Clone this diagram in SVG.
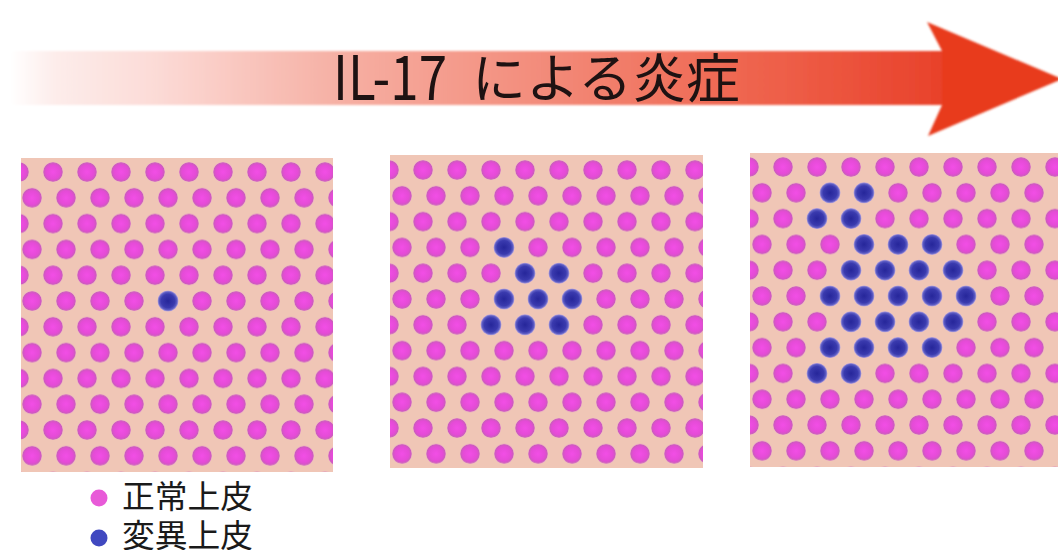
<svg xmlns="http://www.w3.org/2000/svg" xmlns:xlink="http://www.w3.org/1999/xlink" width="1058" height="550" viewBox="0 0 1058 550">
<style>
.bg{fill:#f0c6b6}
.title{font-family:"Noto Sans CJK JP","Noto Sans",sans-serif;fill:#1e1212}
.legend{font-family:"Noto Sans CJK JP","Noto Sans",sans-serif;font-size:32px;fill:#1a1a1a}
.pink{fill:url(#gPink)}
.blue{fill:url(#gBlue)}
</style>
<defs>
<linearGradient id="gShaft" gradientUnits="userSpaceOnUse" x1="10" y1="0" x2="945" y2="0">
<stop offset="0" stop-color="#ffffff"/>
<stop offset="0.05" stop-color="#fdecea"/>
<stop offset="0.15" stop-color="#fcdcd8"/>
<stop offset="0.35" stop-color="#f6b0a4"/>
<stop offset="0.56" stop-color="#f38d7c"/>
<stop offset="0.78" stop-color="#ef6650"/>
<stop offset="1" stop-color="#e8412a"/>
</linearGradient>
<radialGradient id="gPink">
<stop offset="0" stop-color="#f24ee6"/>
<stop offset="0.7" stop-color="#e44bd6"/>
<stop offset="0.92" stop-color="#cc5cbc"/>
<stop offset="1" stop-color="#e7a0cc"/>
</radialGradient>
<radialGradient id="gBlue">
<stop offset="0" stop-color="#26269a"/>
<stop offset="0.65" stop-color="#3a3aae"/>
<stop offset="0.85" stop-color="#5c5cc4"/>
<stop offset="1" stop-color="#b9a8dc"/>
</radialGradient>
<g id="tile">
<circle class="pink" cx="17" cy="12.9" r="10"/>
<circle class="pink" cx="30" cy="38.7" r="10"/>
<circle class="pink" cx="-4" cy="38.7" r="10"/>
</g>
<pattern id="p1" patternUnits="userSpaceOnUse" x="2" y="159.1" width="34" height="51.6"><use xlink:href="#tile"/></pattern>
<pattern id="p2" patternUnits="userSpaceOnUse" x="372" y="157.1" width="34" height="51.6"><use xlink:href="#tile"/></pattern>
<pattern id="p3" patternUnits="userSpaceOnUse" x="732" y="154.1" width="34" height="51.6"><use xlink:href="#tile"/></pattern>
<filter id="soft" x="-5%" y="-20%" width="110%" height="140%"><feGaussianBlur stdDeviation="1"/></filter>
</defs>

<rect width="1058" height="550" fill="#ffffff"/>

<g id="arrow">
<g filter="url(#soft)">
<rect x="10" y="51" width="934" height="54" fill="url(#gShaft)"/>
<polygon points="942,51 927,22 1062,79 928,136 942,105" fill="#e83a1e"/>
</g>
<text class="title" y="100"><tspan x="333" font-size="62" textLength="114" lengthAdjust="spacingAndGlyphs">IL-17</tspan><tspan x="472" font-size="53" textLength="268" lengthAdjust="spacingAndGlyphs" dy="-2">による炎症</tspan></text>
</g>

<g id="panel1">
<rect class="bg" x="21" y="158" width="312" height="314"/>
<rect x="21" y="158" width="312" height="314" fill="url(#p1)"/>
<circle class="blue" cx="168" cy="301" r="10.5"/>
</g>

<g id="panel2">
<rect class="bg" x="390" y="155" width="313" height="313"/>
<rect x="390" y="155" width="313" height="313" fill="url(#p2)"/>
<circle class="blue" cx="504" cy="247.4" r="10.5"/>
<circle class="blue" cx="525" cy="273.2" r="10.5"/>
<circle class="blue" cx="559" cy="273.2" r="10.5"/>
<circle class="blue" cx="504" cy="299" r="10.5"/>
<circle class="blue" cx="538" cy="299" r="10.5"/>
<circle class="blue" cx="572" cy="299" r="10.5"/>
<circle class="blue" cx="491" cy="324.8" r="10.5"/>
<circle class="blue" cx="525" cy="324.8" r="10.5"/>
<circle class="blue" cx="559" cy="324.8" r="10.5"/>
</g>

<g id="panel3">
<rect class="bg" x="750" y="153" width="308" height="314"/>
<rect x="750" y="153" width="308" height="314" fill="url(#p3)"/>
<circle class="blue" cx="830" cy="192.8" r="10.5"/>
<circle class="blue" cx="864" cy="192.8" r="10.5"/>
<circle class="blue" cx="817" cy="218.6" r="10.5"/>
<circle class="blue" cx="851" cy="218.6" r="10.5"/>
<circle class="blue" cx="864" cy="244.4" r="10.5"/>
<circle class="blue" cx="898" cy="244.4" r="10.5"/>
<circle class="blue" cx="932" cy="244.4" r="10.5"/>
<circle class="blue" cx="851" cy="270.2" r="10.5"/>
<circle class="blue" cx="885" cy="270.2" r="10.5"/>
<circle class="blue" cx="919" cy="270.2" r="10.5"/>
<circle class="blue" cx="953" cy="270.2" r="10.5"/>
<circle class="blue" cx="830" cy="296" r="10.5"/>
<circle class="blue" cx="864" cy="296" r="10.5"/>
<circle class="blue" cx="898" cy="296" r="10.5"/>
<circle class="blue" cx="932" cy="296" r="10.5"/>
<circle class="blue" cx="966" cy="296" r="10.5"/>
<circle class="blue" cx="851" cy="321.8" r="10.5"/>
<circle class="blue" cx="885" cy="321.8" r="10.5"/>
<circle class="blue" cx="919" cy="321.8" r="10.5"/>
<circle class="blue" cx="953" cy="321.8" r="10.5"/>
<circle class="blue" cx="830" cy="347.6" r="10.5"/>
<circle class="blue" cx="864" cy="347.6" r="10.5"/>
<circle class="blue" cx="898" cy="347.6" r="10.5"/>
<circle class="blue" cx="932" cy="347.6" r="10.5"/>
<circle class="blue" cx="817" cy="373.4" r="10.5"/>
<circle class="blue" cx="851" cy="373.4" r="10.5"/>
</g>

<g id="legend">
<circle cx="99" cy="498" r="8.5" fill="#e85ad8"/>
<text class="legend" x="122" y="508" textLength="131" lengthAdjust="spacingAndGlyphs">正常上皮</text>
<circle cx="99" cy="538" r="8.5" fill="#4048c0"/>
<text class="legend" x="122" y="547" textLength="131" lengthAdjust="spacingAndGlyphs">変異上皮</text>
</g>
</svg>
